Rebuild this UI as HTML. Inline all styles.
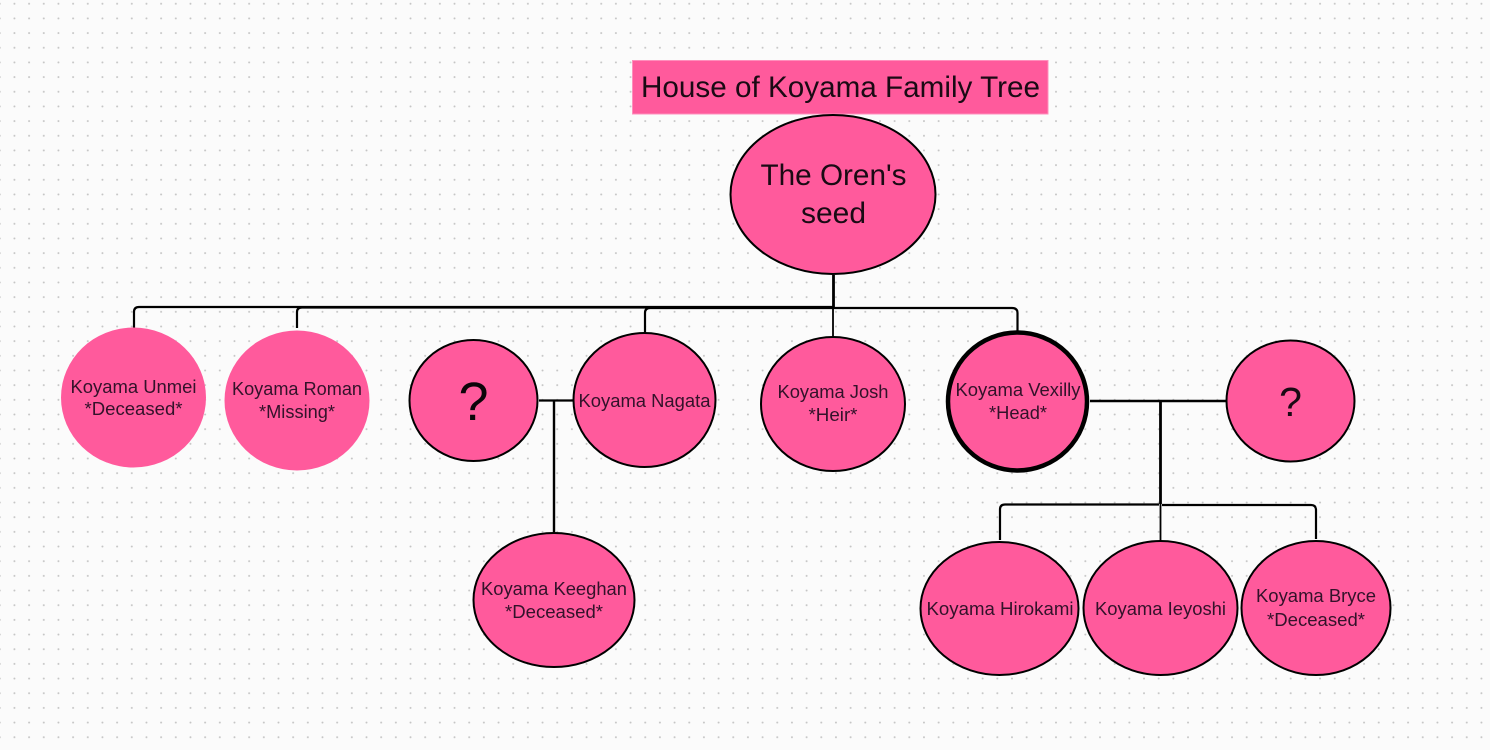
<!DOCTYPE html>
<html><head><meta charset="utf-8"><style>
html,body{margin:0;padding:0;background:#fbfbfb;width:1490px;height:750px;overflow:hidden}
svg{display:block}
text{font-family:"Liberation Sans",sans-serif;fill:#33122a;text-anchor:middle}
.s{font-size:18.2px}
</style></head><body>
<svg width="1490" height="750" viewBox="0 0 1490 750" xmlns="http://www.w3.org/2000/svg">
<defs><pattern id="d" x="7.1" y="-3.6" width="14.67" height="14.67" patternUnits="userSpaceOnUse"><circle cx="7.33" cy="7.33" r="1" fill="#c4c4c4"/></pattern></defs>
<rect width="1490" height="750" fill="#fbfbfb"/>
<rect width="1490" height="750" fill="url(#d)"/>
<g fill="none" stroke="#000" stroke-width="2.2">
<path d="M833.500 275V307" stroke-width="2.800"/>
<path d="M134 328V312Q134 307 139 307H833"/>
<path d="M297 328V312Q297 307.500 302 307.500H833"/>
<path d="M645 333V313Q645 308 650 308H833"/>
<path d="M833 307V337" stroke-width="1.800"/>
<path d="M833 308H1012Q1017.500 308 1017.500 313V331"/>
<path d="M539 400.500H573"/>
<path d="M554 400.500V532" stroke-width="2.400"/>
<path d="M1090 401H1226" stroke-width="2.400"/>
<path d="M1160.500 401V504" stroke-width="2.800"/>
<path d="M1159 504.500H1005Q1000 504.500 1000 509.500V540"/>
<path d="M1160.500 504V541" stroke-width="1.800"/>
<path d="M1162 505H1311Q1316 505 1316 510V539"/>
</g>
<rect x="632.500" y="60.500" width="415.500" height="53.500" fill="#ff5a9c" stroke="#ff8fbc" stroke-width="1"/>
<g fill="#ff5a9c">
<ellipse cx="833" cy="194.500" rx="102.500" ry="79.500" stroke="#000" stroke-width="2"/>
<ellipse cx="133.500" cy="397.500" rx="72.500" ry="70"/>
<ellipse cx="297" cy="400.500" rx="72.500" ry="70"/>
<ellipse cx="473.500" cy="400.500" rx="64" ry="60.500" stroke="#000" stroke-width="2"/>
<ellipse cx="644.500" cy="400" rx="71" ry="67" stroke="#000" stroke-width="2"/>
<ellipse cx="833" cy="404" rx="72" ry="67" stroke="#000" stroke-width="2"/>
<ellipse cx="1017.500" cy="401.500" rx="69.500" ry="69" stroke="#000" stroke-width="4.500"/>
<ellipse cx="1290.500" cy="401" rx="64" ry="60.500" stroke="#000" stroke-width="2"/>
<ellipse cx="554" cy="600" rx="80.500" ry="67" stroke="#000" stroke-width="2"/>
<ellipse cx="999.500" cy="608.500" rx="79" ry="66.500" stroke="#000" stroke-width="2"/>
<ellipse cx="1160.500" cy="608" rx="77" ry="67" stroke="#000" stroke-width="2"/>
<ellipse cx="1316" cy="608" rx="74.500" ry="67" stroke="#000" stroke-width="2"/>
</g>
<text x="840.500" y="97" font-size="30" textLength="399" lengthAdjust="spacingAndGlyphs" style="fill:#1a0a14">House of Koyama Family Tree</text>
<text x="833.500" y="185" font-size="30" textLength="146" lengthAdjust="spacingAndGlyphs" style="fill:#1a0a14">The Oren's</text>
<text x="833.500" y="223" font-size="30" textLength="65" lengthAdjust="spacingAndGlyphs" style="fill:#1a0a14">seed</text>
<text class="s" x="133.500" y="393" textLength="126" lengthAdjust="spacingAndGlyphs">Koyama Unmei</text>
<text class="s" x="133.500" y="415" textLength="98" lengthAdjust="spacingAndGlyphs">*Deceased*</text>
<text class="s" x="297" y="395" textLength="130" lengthAdjust="spacingAndGlyphs">Koyama Roman</text>
<text class="s" x="297" y="418" textLength="76" lengthAdjust="spacingAndGlyphs">*Missing*</text>
<text class="s" x="644.500" y="407" textLength="132" lengthAdjust="spacingAndGlyphs">Koyama Nagata</text>
<text class="s" x="833" y="398" textLength="111" lengthAdjust="spacingAndGlyphs">Koyama Josh</text>
<text class="s" x="833" y="421" textLength="49" lengthAdjust="spacingAndGlyphs">*Heir*</text>
<text class="s" x="1018" y="396" textLength="125" lengthAdjust="spacingAndGlyphs">Koyama Vexilly</text>
<text class="s" x="1018" y="419" textLength="58" lengthAdjust="spacingAndGlyphs">*Head*</text>
<text class="s" x="554" y="595" textLength="146" lengthAdjust="spacingAndGlyphs">Koyama Keeghan</text>
<text class="s" x="554" y="618" textLength="98" lengthAdjust="spacingAndGlyphs">*Deceased*</text>
<text class="s" x="1000" y="615" textLength="147" lengthAdjust="spacingAndGlyphs">Koyama Hirokami</text>
<text class="s" x="1160.500" y="615" textLength="131" lengthAdjust="spacingAndGlyphs">Koyama Ieyoshi</text>
<text class="s" x="1316" y="602" textLength="120" lengthAdjust="spacingAndGlyphs">Koyama Bryce</text>
<text class="s" x="1316" y="626" textLength="98" lengthAdjust="spacingAndGlyphs">*Deceased*</text>
<text x="473.500" y="420" font-size="54" style="fill:#0d0509">?</text>
<text x="1290.500" y="416" font-size="41" style="fill:#1a0a14">?</text>
</svg>
</body></html>
